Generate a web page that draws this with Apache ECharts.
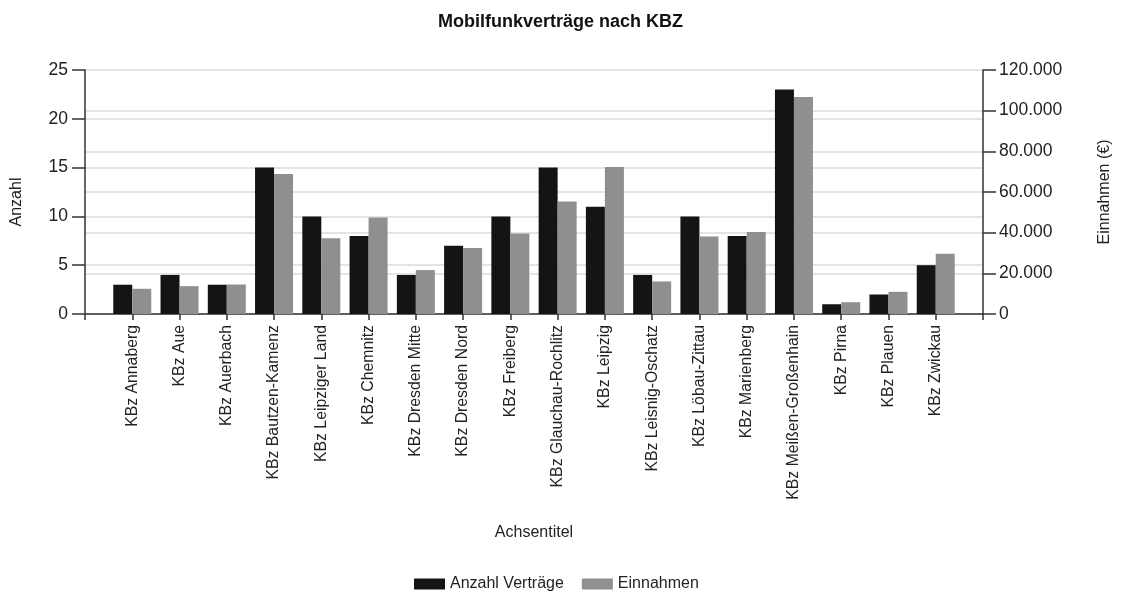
<!DOCTYPE html>
<html>
<head>
<meta charset="utf-8">
<script src="https://cdn.jsdelivr.net/npm/echarts@6/dist/echarts.min.js"></script>
<style>
html,body{margin:0;padding:0;background:#fff;}
#chart{width:1121px;height:592px;}
</style>
</head>
<body>
<div id="chart"></div>
<script>
const categories = ['KBz Annaberg','KBz Aue','KBz Auerbach','KBz Bautzen-Kamenz','KBz Leipziger Land','KBz Chemnitz','KBz Dresden Mitte','KBz Dresden Nord','KBz Freiberg','KBz Glauchau-Rochlitz','KBz Leipzig','KBz Leisnig-Oschatz','KBz Löbau-Zittau','KBz Marienberg','KBz Meißen-Großenhain','KBz Pirna','KBz Plauen','KBz Zwickau'];
const anzahl = [3,4,3,15,10,8,4,7,10,15,11,4,10,8,23,1,2,5];
const einnahmen = [12400,13700,14500,68900,37300,47500,21600,32400,39600,55300,72300,16000,38100,40300,106700,5800,10900,29600];
const leftTicks = {min:0, max:25, interval:5};
const rightTicks = {min:0, max:120000, interval:20000};

const font = 'Liberation Sans, Arial, sans-serif';
const txt = '#222';
const axisCol = '#333';
const gridCol = '#e4e4e4';

const xData = [''].concat(categories, ['']);
const pad = arr => [null].concat(arr, [null]);
const fmtDe = v => String(v).replace(/\B(?=(\d{3})+(?!\d))/g, '.');

const chart = echarts.init(document.getElementById('chart'), null, {renderer:'canvas'});
chart.setOption({
  animation:false,
  backgroundColor:'#fff',
  textStyle:{fontFamily:font, color:txt},
  title:{
    text:'Mobilfunkverträge nach KBZ',
    left:'center', top:8,
    textStyle:{fontFamily:font, fontSize:18, fontWeight:'bold', color:'#111'}
  },
  legend:{
    left:409, top:571,
    itemWidth:31, itemHeight:11, itemGap:18,
    icon:'rect',
    textStyle:{fontFamily:font, fontSize:16, color:txt}
  },
  grid:{left:85, right:137, top:70, bottom:278, containLabel:false},
  xAxis:{
    type:'category',
    data:xData,
    boundaryGap:false,
    name:'Achsentitel',
    nameLocation:'middle',
    nameGap:211,
    nameTextStyle:{fontFamily:font, fontSize:16, color:txt},
    axisLine:{lineStyle:{color:axisCol, width:1.5}},
    axisTick:{length:6, lineStyle:{color:axisCol, width:1.5}},
    axisLabel:{rotate:90, margin:11, fontSize:15.8, fontFamily:font, color:txt, interval:0},
    splitLine:{show:false}
  },
  yAxis:[
    {
      type:'value', position:'left',
      min:leftTicks.min, max:leftTicks.max, interval:leftTicks.interval,
      name:'Anzahl', nameLocation:'middle', nameGap:60,
      nameTextStyle:{fontFamily:font, fontSize:16, color:txt, padding:[0,0,0,-20]},
      axisLine:{show:true, lineStyle:{color:axisCol, width:1.5}},
      axisTick:{show:true, length:13, lineStyle:{color:axisCol, width:1.5}},
      axisLabel:{margin:17, fontSize:17.5, fontFamily:font, color:txt},
      splitLine:{show:true, lineStyle:{color:gridCol, width:2}}
    },
    {
      type:'value', position:'right',
      min:rightTicks.min, max:rightTicks.max, interval:rightTicks.interval,
      name:'Einnahmen (€)', nameLocation:'middle', nameGap:114,
      nameTextStyle:{fontFamily:font, fontSize:16, color:txt},
      axisLine:{show:true, lineStyle:{color:axisCol, width:1.5}},
      axisTick:{show:true, length:13, lineStyle:{color:axisCol, width:1.5}},
      axisLabel:{margin:16, fontSize:17.5, fontFamily:font, color:txt, formatter:fmtDe},
      splitLine:{show:true, lineStyle:{color:gridCol, width:2}}
    }
  ],
  series:[
    {
      name:'Anzahl Verträge', type:'bar', yAxisIndex:0,
      data:pad(anzahl), barWidth:19, barGap:'0%',
      itemStyle:{color:'#141414'}
    },
    {
      name:'Einnahmen', type:'bar', yAxisIndex:1,
      data:pad(einnahmen), barWidth:19, barGap:'0%',
      itemStyle:{color:'#8f8f8f'}
    }
  ]
});
</script>
</body>
</html>
